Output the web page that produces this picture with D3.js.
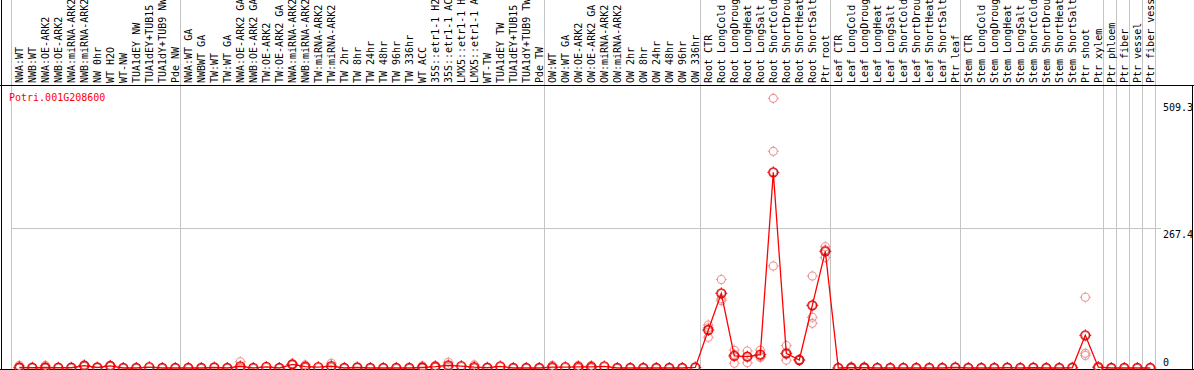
<!DOCTYPE html>
<html lang="en">

<head>
    <meta charset="UTF-8">
    <title>Potri.001G208600</title>
    <script src="https://d3js.org/d3.v7.min.js"></script>
    <style>
        body { margin: 0; background: #fff; }
        text { font-family: "DejaVu Sans Mono", monospace; font-size: 10px; }
    </style>
</head>

<body>
    <script>
        var geneId = "Potri.001G208600";

        var samples = [
            "NWA:WT", "NWB:WT", "NWA:OE-ARK2", "NWB:OE-ARK2", "NWA:miRNA-ARK2", "NWB:miRNA-ARK2",
            "NW 0hr", "WT H2O", "WT-NW", "TUA1dEY NW", "TUA1dEY+TUB15", "TUA1dY+TUB9 NW", "Pde NW",
            "NWA:WT GA", "NWBWT GA", "TW:WT", "TW:WT GA", "NWA:OE-ARK2 GA", "NWB:OE-ARK2 GA",
            "TW:OE-ARK2", "TW:OE-ARK2 GA", "NWA:miRNA-ARK2", "NWB:miRNA-ARK2", "TW:miRNA-ARK2",
            "TW:miRNA-ARK2", "TW 2hr", "TW 8hr", "TW 24hr", "TW 48hr", "TW 96hr", "TW 336hr", "WT ACC",
            "35S::etr1-1 H2O", "35S::etr1-1 ACC", "LMX5::etr1-1 H2O", "LMX5::etr1-1 ACC", "WT-TW",
            "TUA1dEY TW", "TUA1dEY+TUB15", "TUA1dY+TUB9 TW", "Pde TW",
            "OW:WT", "OW:WT GA", "OW:OE-ARK2", "OW:OE-ARK2 GA", "OW:miRNA-ARK2", "OW:miRNA-ARK2",
            "OW 2hr", "OW 8hr", "OW 24hr", "OW 48hr", "OW 96hr", "OW 336hr",
            "Root CTR", "Root LongCold", "Root LongDrought", "Root LongHeat", "Root LongSalt",
            "Root ShortCold", "Root ShortDrought", "Root ShortHeat", "Root ShortSalt", "Ptr root",
            "Leaf CTR", "Leaf LongCold", "Leaf LongDrought", "Leaf LongHeat", "Leaf LongSalt",
            "Leaf ShortCold", "Leaf ShortDrought", "Leaf ShortHeat", "Leaf ShortSalt", "Ptr leaf",
            "Stem CTR", "Stem LongCold", "Stem LongDrought", "Stem LongHeat", "Stem LongSalt",
            "Stem ShortCold", "Stem ShortDrought", "Stem ShortHeat", "Stem ShortSalt", "Ptr shoot",
            "Ptr xylem", "Ptr phloem", "Ptr fiber", "Ptr vessel", "Ptr fiber vessel"
        ];

        // mean expression per sample
        var means = [
            1, 0.5, 1, 0.5, 0.5, 4.5, 1, 4, 0, 0, 1.5, 0, 0,
            0, 0, 1, 0, 3, 0, 2, 0, 7, 2.5, 1.5, 3.5, 0, 1, 0, 0, 0, 0, 1, 2.5, 5, 3.5, 1.5, 0.5, 3, 0, 0, 0,
            1.5, 1.5, 2, 2, 3, 0, 0, 0, 0, 0, 0, 1,
            72.6, 142.6, 23, 21.6, 25.5, 373.7, 28, 15.3, 119.7, 222.8,
            0, 0.5, 0.5, 0, 0, 0, 0, 0, 0, 1,
            0, 0, 0, 0.5, 0, 0.5, 0, 0, 0.5, 62.4, 1.5,
            0, 0, 0, 0
        ];

        // replicate values (only samples with visible spread, index -> values)
        var replicates = {
            0: [5, 0, 0], 2: [5, 0, 0], 5: [6, 4, 3], 7: [5, 4, 3],
            17: [12, 0, 0], 21: [8, 7, 6], 22: [6, 1, 1], 24: [9, 1, 1],
            31: [4, 0, 0], 32: [5, 2, 1], 33: [11, 3, 1], 35: [6, 0, 0],
            41: [5, 1, 0], 43: [5, 1, 0], 44: [5, 1, 0],
            53: [82, 77, 58.6], 54: [169, 132, 128.6], 55: [34, 26, 9], 56: [32.5, 22, 10],
            57: [34, 22, 20], 58: [515, 413.8, 194.8], 59: [43, 26, 15], 60: [16, 15, 15],
            61: [175.7, 96.8, 85.3], 62: [231.7, 226, 211],
            64: [2.5, 0, 0], 65: [2.5, 0, 0], 82: [135, 28, 24], 83: [3, 1, 0.5]
        };

        // sample index where each group starts (plus the end)
        var groupBreaks = [0, 13, 41, 53, 63, 73, 84, 85, 86, 87, 88];

        var yTicks = [0, 267.4, 509.3];
        var yGrid = [267.4];

        var width = 1194, height = 370;
        var svg = d3.select("body").append("svg")
            .attr("width", width)
            .attr("height", height);

        var x = d3.scaleLinear().domain([0, samples.length - 1]).range([19.3, 19.3 + 13 * (samples.length - 1)]);
        var y = d3.scaleLinear().domain([0, 534.8]).range([368, 88]);
        var topY = 85, bottomY = 369;

        // group separators
        svg.selectAll(".sep").data(groupBreaks).enter().append("line")
            .attr("x1", d => Math.round(x(d) - 8.3) + 0.5).attr("x2", d => Math.round(x(d) - 8.3) + 0.5)
            .attr("y1", 0).attr("y2", bottomY)
            .attr("stroke", "#c4c4c4").attr("stroke-width", 1);

        // grid line
        svg.selectAll(".grid").data(yGrid).enter().append("line")
            .attr("x1", x(0) - 8.3).attr("x2", 1161)
            .attr("y1", d => Math.round(y(d)) + 0.5).attr("y2", d => Math.round(y(d)) + 0.5)
            .attr("stroke", "#c4c4c4").attr("stroke-width", 1);

        // frame
        svg.append("line").attr("x1", 1.5).attr("x2", 1.5).attr("y1", 0).attr("y2", bottomY)
            .attr("stroke", "#000");
        svg.append("line").attr("x1", 0).attr("x2", width).attr("y1", topY + 0.5).attr("y2", topY + 0.5)
            .attr("stroke", "#000");
        svg.append("line").attr("x1", 0).attr("x2", width).attr("y1", bottomY + 0.5).attr("y2", bottomY + 0.5)
            .attr("stroke", "#000");
        svg.append("line").attr("x1", 1192.5).attr("x2", 1192.5).attr("y1", topY).attr("y2", bottomY)
            .attr("stroke", "#000");

        // sample labels, reading upwards from just above the frame
        svg.selectAll(".lab").data(samples).enter().append("text")
            .attr("transform", (d, i) => "translate(" + (x(i) + 3.5) + ",83) rotate(-90)")
            .attr("text-anchor", "start")
            .attr("fill", "#000")
            .text(d => d);

        // y labels
        svg.selectAll(".ylab").data(yTicks).enter().append("text")
            .attr("x", 1163)
            .attr("y", d => Math.min(y(d) + 10, 366))
            .attr("fill", "#000")
            .text(d => d);

        // gene id
        svg.append("text").attr("x", 9).attr("y", 101).attr("fill", "#ff0000").text(geneId);

        function marker(g, cx, cy, r, color, w) {
            g.append("circle").attr("cx", cx).attr("cy", cy).attr("r", r)
                .attr("fill", "none").attr("stroke", color).attr("stroke-width", w);
            [[0, -1], [0, 1], [-1, 0], [1, 0]].forEach(function (v) {
                g.append("line")
                    .attr("x1", cx + v[0] * r).attr("y1", cy + v[1] * r)
                    .attr("x2", cx + v[0] * (r + 1.5)).attr("y2", cy + v[1] * (r + 1.5))
                    .attr("stroke", color).attr("stroke-width", 1);
            });
        }

        // replicates
        var repG = svg.append("g");
        Object.keys(replicates).forEach(function (k) {
            replicates[k].forEach(function (v) {
                marker(repG, x(+k), y(v), 4, "#ee9494", 1.1);
            });
        });

        // mean line
        var line = d3.line().x((d, i) => x(i)).y(d => y(d));
        svg.append("path").datum(means)
            .attr("d", line)
            .attr("fill", "none")
            .attr("stroke", "#ff0000")
            .attr("stroke-width", 1.3);

        // means
        var meanG = svg.append("g");
        means.forEach(function (v, i) {
            marker(meanG, x(i), y(v), 4.5, "#ff0000", 1.3);
            meanG.append("circle").attr("cx", x(i)).attr("cy", y(v)).attr("r", 3.7)
                .attr("fill", "none").attr("stroke", "#800000").attr("stroke-width", 0.5);
        });
    </script>
</body>

</html>
